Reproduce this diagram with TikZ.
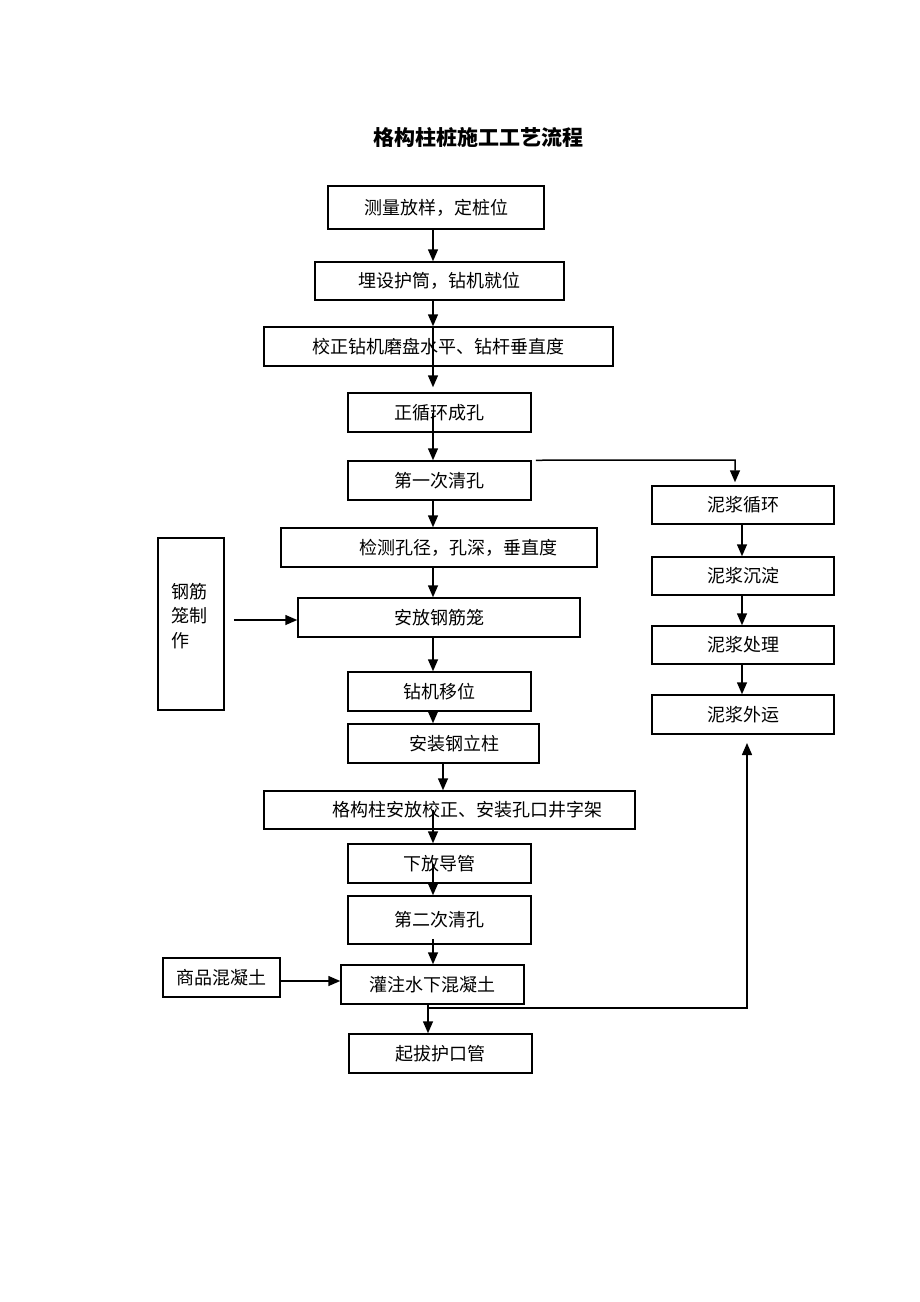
\documentclass[tikz,border=0pt]{standalone}
\usepackage{fontspec}
\usepackage{tikz}
\usetikzlibrary{arrows.meta}
\newfontfamily\cjk{Noto Sans CJK SC}

\begin{document}
\begin{tikzpicture}[x=1pt,y=-1pt,
  box/.style={draw,line width=1.5pt,inner sep=0pt,font=\cjk\fontsize{18}{24}\selectfont},
  arr/.style={line width=1.5pt,-{Triangle[length=12pt,width=10pt]}}]
  \useasboundingbox (0,0) rectangle (920,1302);
  \node[font=\cjk\bfseries\fontsize{21}{24}\selectfont] (title) at (478,137) {格构柱桩施工工艺流程};
  \node[box,minimum width=216pt,minimum height=43pt] (s1) at (436,207.5) {测量放样，定桩位};
  \node[box,minimum width=249pt,minimum height=38pt] (s2) at (439.5,281) {埋设护筒，钻机就位};
  \node[box,minimum width=349pt,minimum height=39pt] (s3) at (438.5,346.5) {校正钻机磨盘水平、钻杆垂直度};
  \node[box,minimum width=183pt,minimum height=39pt] (s4) at (439.5,412.5) {正循环成孔};
  \node[box,minimum width=183pt,minimum height=39pt] (s5) at (439.5,480.5) {第一次清孔};
  \node[box,minimum width=316pt,minimum height=39pt] (s6) at (439,547.5) {\hspace*{38pt}检测孔径，孔深，垂直度};
  \node[box,minimum width=282pt,minimum height=39pt] (s7) at (439,617.5) {安放钢筋笼};
  \node[box,minimum width=183pt,minimum height=39pt] (s8) at (439.5,691.5) {钻机移位};
  \node[box,minimum width=191pt,minimum height=39pt] (s9) at (443.5,743.5) {\hspace*{22pt}安装钢立柱};
  \node[box,minimum width=371pt,minimum height=38pt] (s10) at (449.5,810) {\hspace*{36pt}格构柱安放校正、安装孔口井字架};
  \node[box,minimum width=183pt,minimum height=39pt] (s11) at (439.5,863.5) {下放导管};
  \node[box,minimum width=183pt,minimum height=48pt] (s12) at (439.5,920) {第二次清孔};
  \node[box,minimum width=183pt,minimum height=39pt] (s13) at (432.5,984.5) {灌注水下混凝土};
  \node[box,minimum width=183pt,minimum height=39pt] (s14) at (440.5,1053.5) {起拔护口管};
  \node[box,minimum width=66pt,minimum height=172pt] (cage) at (191,624) {};
  \node[font=\cjk\fontsize{18}{24.5}\selectfont,align=left,inner sep=0pt] (cagetxt) at (189,616) {钢筋\\笼制\\作\hphantom{制}};
  \node[box,minimum width=117pt,minimum height=39pt] (conc) at (221.5,977.5) {商品混凝土};
  \node[box,minimum width=182pt,minimum height=38pt] (m1) at (743,505) {泥浆循环};
  \node[box,minimum width=182pt,minimum height=38pt] (m2) at (743,576) {泥浆沉淀};
  \node[box,minimum width=182pt,minimum height=38pt] (m3) at (743,645) {泥浆处理};
  \node[box,minimum width=182pt,minimum height=39pt] (m4) at (743,714.5) {泥浆外运};
  \coordinate (spine) at (433,0);
  \coordinate (spineb) at (443,0);
  \coordinate (spinec) at (428,0);
  \coordinate (tap) at (735,460);
  \coordinate (ret) at (428,1008);
  \coordinate (up) at (747,743);
  \draw[arr] (s1.south -| spine) -- (s2.north -| spine);
  \draw[arr] (s2.south -| spine) -- (s3.north -| spine);
  \draw[arr] (s3.north -| spine) -- ([yshift=5pt]s4.north -| spine);
  \draw[arr] (s4 -| spine) -- (s5.north -| spine);
  \draw[arr] (s5.south -| spine) -- (s6.north -| spine);
  \draw[arr] (s6.south -| spine) -- (s7.north -| spine);
  \draw[arr] (s7.south -| spine) -- (s8.north -| spine);
  \draw[arr] (s8.south -| spine) -- (s9.north -| spine);
  \draw[arr] (s9.south -| spineb) -- (s10.north -| spineb);
  \draw[arr] (s10 -| spine) -- (s11.north -| spine);
  \draw[arr] (s11 -| spine) -- (s12.north -| spine);
  \draw[arr] ([yshift=6pt]s12.south -| spine) -- (s13.north -| spine);
  \draw[arr] (s13.south -| spinec) -- (s14.north -| spinec);
  \draw[arr] ([xshift=4pt]s5.north east) -- (tap) -- ([yshift=3pt]tap |- m1.north);
  \draw[arr] (m1) ++(-1,19) -- ([xshift=-1pt]m2.north);
  \draw[arr] (m2) ++(-1,19) -- ([xshift=-1pt]m3.north);
  \draw[arr] (m3) ++(-1,19) -- ([xshift=-1pt]m4.north);
  \draw[arr] (ret) -- (ret -| up) -- (up);
  \draw[arr] ([xshift=9pt]s7.west -| cage.east) ++(0,2.5) -- ([yshift=-2.5pt]s7.west);
  \draw[arr] ([yshift=-3.5pt]conc.east) -- ([yshift=-3.5pt]conc.east -| s13.west);
\end{tikzpicture}
\end{document}
